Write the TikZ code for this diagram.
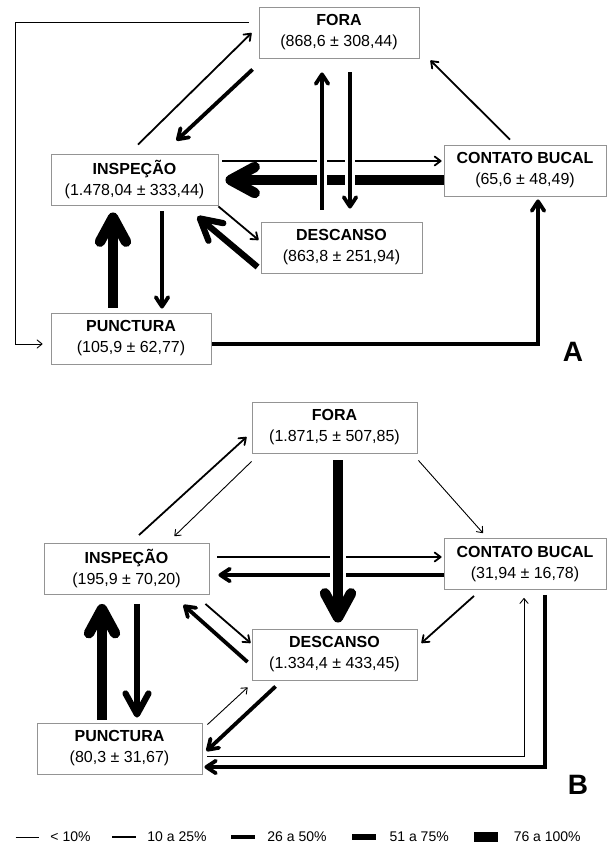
\documentclass[tikz,border=0pt]{standalone}
\usepackage{fontspec}
\setmainfont{Liberation Sans}
\usetikzlibrary{arrows.meta}
\usetikzlibrary{calc}

\begin{document}
\begin{tikzpicture}[x=1pt,y=-1pt,
    caixa/.style={draw=black!42, line width=0.9pt, fill=white, align=center, inner sep=0pt,
        minimum height=51pt, font=\fontsize{16}{21}\selectfont},
    p10/.style={line width=0.9pt, -{Straight Barb[round,length=5pt,width=8pt]}},
    p25/.style={line width=1.8pt, -{Straight Barb[round,length=6pt,width=9pt]}},
    p50/.style={line width=3.8pt, -{Straight Barb[round,length=9.5pt,width=12.5pt]}},
    p75/.style={line width=6.2pt, -{Straight Barb[round,length=21pt,width=23pt]}},
    p100/.style={line width=10.5pt, -{Straight Barb[round,length=24pt,width=26pt]}},
    corte/.style={preaction={draw=white, -, line width=#1}},
    letra/.style={font=\fontsize{28}{28}\selectfont\bfseries},
    legenda/.style={anchor=west, inner sep=0pt, xshift=11pt, font=\fontsize{14}{14}\selectfont}]
\useasboundingbox (0,0) rectangle (607,852);

% Painel A:
\node[caixa, minimum width=160pt] (foraA) at (339,32.5)   {\textbf{FORA}\\(868,6 ± 308,44)};
\node[caixa, minimum width=167pt] (inspA) at (134.5,179.5) {\textbf{INSPEÇÃO}\\(1.478,04 ± 333,44)};
\node[caixa, minimum width=162pt] (contA) at (525,170.5)  {\textbf{CONTATO BUCAL}\\(65,6 ± 48,49)};
\node[caixa, minimum width=161pt] (descA) at (341.5,247.5) {\textbf{DESCANSO}\\(863,8 ± 251,94)};
\node[caixa, minimum width=160pt] (puncA) at (131,338.5)  {\textbf{PUNCTURA}\\(105,9 ± 62,77)};
\node[letra] (letraA) at (573,352) {A};

% Transicoes A:
\draw[p10] ($(foraA.west)+(-10,-10)$) -- ++(-233,0) |- ($(puncA.west)+(-8,5.5)$);
\draw[p25] ($(inspA.north)+(3.5,-9)$) -- ($(foraA.west)+(-7,0.5)$);
\draw[p50] ($(foraA.south west)+(-6,11)$) -- ($(inspA.north east)+(-42,-13)$);
\draw[p25] ($(contA.north)+(-15,-5)$) -- ($(foraA.south east)+(11,2)$);
\draw[p25] ($(inspA.east)+(4,-18.5)$) -- ($(contA.west)+(-2,-9.5)$);
\draw[p100] ($(contA.west)+(0,9.5)$) -- ($(inspA.east)+(7,0.5)$);
\draw[p25] ($(inspA.south east)+(0,1)$) -- ($(descA.west)+(-2,-7.5)$);
\draw[p75] ($(descA.west)+(-3,19.5)$) -- ($(inspA.south east)+(-21,11)$);
\draw[p100] ($(puncA.north)+(-18,-5)$) -- ($(inspA.south)+(-21.5,7)$);
\draw[p50] ($(inspA.south)+(27.5,6)$) -- ($(puncA.north)+(31,-4)$);
\draw[p50] ($(puncA.east)+(1,5.5)$) -| ($(contA.south)+(13,3)$);
% verticais por cima das horizontais
\draw[p50,corte=10pt] ($(descA.north)+(-19.5,-12)$) -- ($(foraA.south)+(-17,14)$);
\draw[p50,corte=10pt] ($(foraA.south)+(11,14)$) -- ($(descA.north)+(8.5,-13)$);

% Painel B:
\node[caixa, minimum width=165pt] (foraB) at (334.5,427.5) {\textbf{FORA}\\(1.871,5 ± 507,85)};
\node[caixa, minimum width=165pt] (inspB) at (126.5,569)   {\textbf{INSPEÇÃO}\\(195,9 ± 70,20)};
\node[caixa, minimum width=162pt] (contB) at (525,564)     {\textbf{CONTATO BUCAL}\\(31,94 ± 16,78)};
\node[caixa, minimum width=165pt] (descB) at (334.5,654.5) {\textbf{DESCANSO}\\(1.334,4 ± 433,45)};
\node[caixa, minimum width=165pt] (puncB) at (119.5,748.5) {\textbf{PUNCTURA}\\(80,3 ± 31,67)};
\node[letra] (letraB) at (578,785) {B};

% Transicoes B:
\draw[p25] ($(inspB.north)+(12.5,-8)$) -- ($(foraB.west)+(-5,9.5)$);
\draw[p10] ($(foraB.south west)+(0,8)$) -- ($(inspB.north east)+(-35,-7)$);
\draw[p10] ($(foraB.south east)+(1,7)$) -- ($(contB.north)+(-42,-5)$);
\draw[p25] ($(inspB.east)+(8,-12)$) -- ($(contB.west)+(-2,-7)$);
\draw[p50] ($(contB.west)+(0,11)$) -- ($(inspB.east)+(9,6)$);
\draw[p25] ($(contB.south)+(-51,6)$) -- ($(descB.east)+(4,-11.5)$);
\draw[p25] ($(inspB.south east)+(-4,9)$) -- ($(descB.west)+(-1,-11.5)$);
\draw[p50] ($(descB.west)+(-4,7.5)$) -- ($(inspB.south east)+(-26,10)$);
\draw[p100] ($(puncB.north)+(-17.5,-3)$) -- ($(inspB.south)+(-24.5,9)$);
\draw[p75] ($(inspB.south)+(10.5,9)$) -- ($(puncB.north)+(17.5,-5)$);
\draw[p10] ($(puncB.north east)+(5,2)$) -- ($(descB.south west)+(-4,7)$);
\draw[p50] ($(descB.south west)+(24,6)$) -- ($(puncB.east)+(4,2.5)$);
\draw[p10] ($(puncB.east)+(5,7.5)$) -| ($(contB.south)+(-1,8)$);
\draw[p50] ($(contB.south)+(20,5)$) |- ($(puncB.east)+(2,18.5)$);
% vertical por cima das horizontais
\draw[p100,corte=16pt] ($(foraB.south)+(3.5,7)$) -- ($(descB.north)+(3.5,-6)$);

% Legenda:
\foreach \xi/\peso/\rotulo in {15.5/p10/{< 10\%}, 112/p25/{10 a 25\%}, 231/p50/{26 a 50\%},
                               352/p75/{51 a 75\%}, 474/p100/{76 a 100\%}}
    \draw[\peso,-] (\xi,837) -- ++(23.5,0) node[legenda] (leg\peso) {\rotulo};
\end{tikzpicture}
\end{document}
